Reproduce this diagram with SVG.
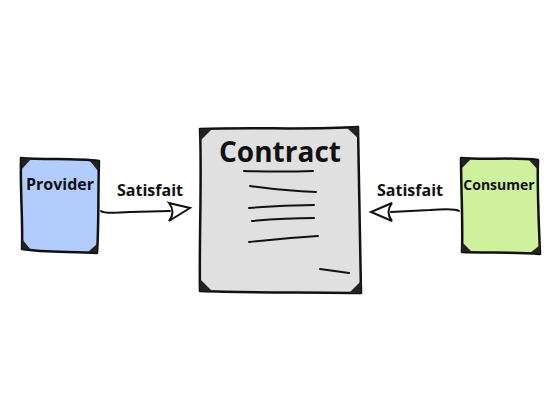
<svg xmlns="http://www.w3.org/2000/svg" width="559" height="419" viewBox="0 0 559 419">
<style>
.box{stroke:#111;stroke-width:2.5;stroke-linejoin:round}
.ln{fill:none;stroke:#111;stroke-width:2;stroke-linecap:round}
.corner{fill:#222}
.t{font-family:"Open Sans","Liberation Sans",sans-serif;font-weight:bold;fill:#111}
</style>
<rect width="559" height="419" fill="#fff"/>
<g id="provider">
<path class="box" fill="#b3ccfe" d="M21,158 C45,160 75,158 99,161 C98,190 99,225 97,253 C75,251 45,253 22,249 C23,220 20,190 21,158 Z"/>
<path class="corner" d="M21,158 L31,159 L22,169 Z M99,161 L98,171 L90,161 Z M97,253 L88,252 L97,244 Z M22,249 L22,239 L31,250 Z"/>
<text class="t" x="60" y="190" font-size="16" text-anchor="middle">Provider</text>
</g>
<g id="contract">
<path class="box" fill="#e0e0e0" d="M200,129 C250,127 310,130 358,127 C359,180 360,240 361,293 C310,292 250,293 200,291 C199,240 202,180 200,129 Z"/>
<path class="corner" d="M200,129 L212,129 L200,141 Z M358,127 L359,139 L347,128 Z M361,293 L349,293 L361,281 Z M200,291 L200,279 L212,291 Z"/>
<text class="t" x="280" y="162" font-size="28" text-anchor="middle">Contract</text>
<path class="ln" d="M244,171 Q280,172 313,171"/>
<path class="ln" d="M250,186 Q285,191 316,192"/>
<path class="ln" d="M249,208 Q282,205 314,205"/>
<path class="ln" d="M252,221 Q285,218 314,218"/>
<path class="ln" d="M249,242 Q285,238 318,236"/>
<path class="ln" d="M320,269 L349,273"/>
</g>
<g id="consumer">
<path class="box" fill="#cff09c" d="M461,158 C485,160 515,157 538,160 C537,190 539,225 540,254 C515,252 485,253 462,252 C463,220 461,190 461,158 Z"/>
<path class="corner" d="M461,158 L471,159 L462,168 Z M538,160 L538,170 L529,160 Z M540,254 L530,253 L540,245 Z M462,252 L462,242 L472,252 Z"/>
<text class="t" x="499" y="190" font-size="14" text-anchor="middle">Consumer</text>
</g>
<g id="connectors">
<path class="ln" d="M101,211 Q104,214 130,212 L170,211"/>
<path class="ln" fill="#fff" d="M169,203 L190,208 L169,221 Q176,212 169,203 Z" style="fill:#fff"/>
<text class="t" x="150" y="196" font-size="16" text-anchor="middle">Satisfait</text>
<path class="ln" d="M459,211 Q455,208 430,210 L391,212"/>
<path class="ln" d="M392,203 L371,212 L392,221 Q385,212 392,203 Z" style="fill:#fff"/>
<text class="t" x="410" y="196" font-size="16" text-anchor="middle">Satisfait</text>
</g>
</svg>
